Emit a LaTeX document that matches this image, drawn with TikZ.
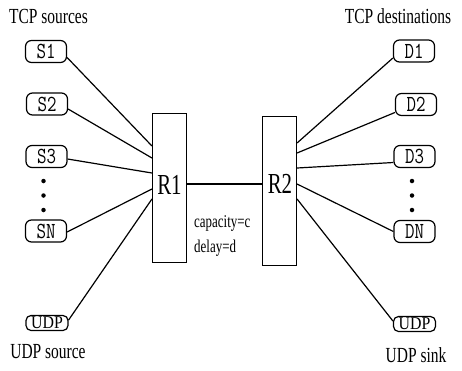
\documentclass[tikz,border=0pt]{standalone}
\usepackage{fontspec}
\setmainfont[FakeStretch=0.72]{Liberation Serif}
\newfontfamily\boxmono[FakeStretch=0.8]{Latin Modern Mono}
\newfontfamily\boxserif[FakeStretch=0.88]{Liberation Serif}
\begin{document}
\begin{tikzpicture}[x=1pt,y=-1pt,
  hostbox/.style={draw, line width=1.2pt, rounded corners=6pt, minimum width=41pt, minimum height=22pt, inner sep=0pt, font=\boxmono\fontsize{23}{23}\selectfont},
  udpbox/.style={draw, line width=1.2pt, rounded corners=5pt, minimum width=42pt, minimum height=15pt, inner sep=0pt, font=\boxserif\fontsize{18}{18}\selectfont},
  router/.style={draw, line width=1.1pt, minimum width=34pt, minimum height=149pt, inner sep=0pt},
  conn/.style={line width=1.2pt},
  trunk/.style={line width=2.6pt},
  lbl/.style={font=\fontsize{21.5}{21.5}\selectfont, inner sep=0pt},
  rlbl/.style={font=\fontsize{29}{29}\selectfont, inner sep=0pt},
  plbl/.style={font=\fontsize{18}{18}\selectfont, inner sep=0pt},
  dotnode/.style={circle, fill, inner sep=0pt, minimum size=4.5pt}]
\useasboundingbox (0,0) rectangle (462,370);

% routers
\node[router] (R1) at (169.5,188) {};
\node[router] (R2) at (279.5,191) {};
\node[rlbl] (R1t) at (169.5,185) {R1};
\node[rlbl] (R2t) at (280,184) {R2};

% sources
\node[hostbox] (S1) at (46,51.5) {S1};
\node[hostbox] (S2) at (47,104) {S2};
\node[hostbox] (S3) at (46.5,156.5) {S3};
\node[hostbox] (SN) at (46,231) {SN};
\node[udpbox] (US) at (47,323) {UDP};

% destinations
\node[hostbox] (D1) at (414,51) {D1};
\node[hostbox] (D2) at (416,104.5) {D2};
\node[hostbox] (D3) at (414.5,156.5) {D3};
\node[hostbox] (DN) at (414.5,231.5) {DN};
\node[udpbox] (UD) at (414.5,324) {UDP};

% dots
\node[dotnode] (ld1) at (43.5,181) {};
\node[dotnode] (ld2) at (43.5,195.5) {};
\node[dotnode] (ld3) at (43.5,210) {};
\node[dotnode] (rd1) at (412,181) {};
\node[dotnode] (rd2) at (412,195.5) {};
\node[dotnode] (rd3) at (412,210) {};

% labels
\node[lbl, anchor=base west] (tcps) at (9,23) {TCP sources};
\node[lbl, anchor=base] (tcpd) at (398,23) {TCP destinations};
\node[lbl, anchor=base] (udps) at (48,358) {UDP source};
\node[lbl, anchor=base] (udpk) at (416,362) {UDP sink};
\node[plbl, anchor=base west] (cap) at (194,227) {capacity=c};
\node[plbl, anchor=base west] (del) at (194,252) {delay=d};

% connectors left
\draw[conn] ([yshift=-6pt]S1.east) -- ([yshift=42pt]R1.west);
\draw[conn] ([yshift=-5pt]S2.east) -- ([yshift=30pt]R1.west);
\draw[conn] ([yshift=-2.5pt]S3.east) -- ([yshift=15pt]R1.west);
\draw[conn] ([yshift=-1pt]SN.east) -- ([yshift=-1pt]R1.west);
\draw[conn] ([yshift=3pt]US.east) -- ([yshift=-11pt]R1.west);

% connectors right
\draw[conn] ([yshift=-7pt]D1.west) -- ([yshift=48pt]R2.east);
\draw[conn] ([yshift=-8pt]D2.west) -- ([yshift=38pt]R2.east);
\draw[conn] ([yshift=-6pt]D3.west) -- ([yshift=23pt]R2.east);
\draw[conn] (DN.west) -- ([yshift=7pt]R2.east);
\draw[conn] ([yshift=3pt]UD.west) -- ([yshift=-8pt]R2.east);

% trunk link
\draw[trunk] ([yshift=4pt]R1.east) -- ([yshift=4pt]R1.east -| R2.west);
\end{tikzpicture}
\end{document}
